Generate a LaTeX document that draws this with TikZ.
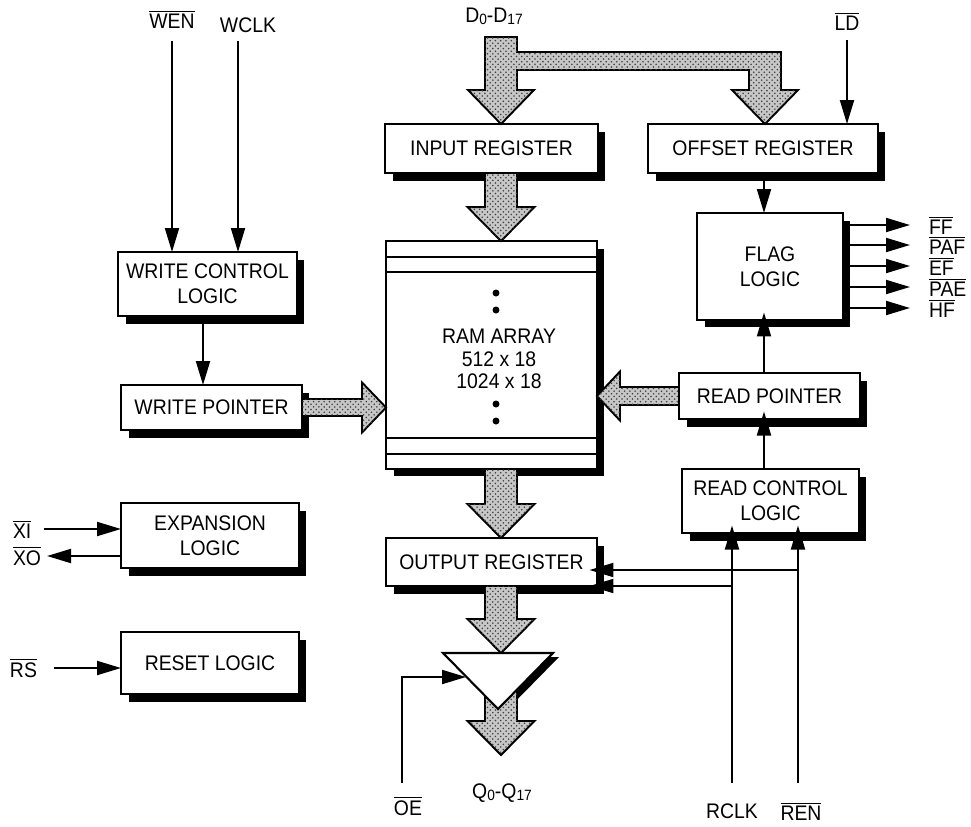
\documentclass[tikz,border=0pt]{standalone}
\usepackage{fontspec}
\setmainfont{Liberation Sans}[FakeStretch=0.92]
\usetikzlibrary{arrows.meta,positioning,calc,shadows,patterns}

\newcommand{\ovl}[1]{$\overline{\mbox{#1}}$}
\newcommand{\lowfig}[1]{\raisebox{-1pt}{\fontsize{8.5}{8.5}\selectfont #1}}
% fat bus arrows: #1 shaft start, #2 tip
\newcommand{\busdown}[2]{%
  \draw[bus] ([xshift=-0.32cm]#1) -- ([xshift=0.32cm]#1) -- ([xshift=0.32cm,yshift=0.68cm]#2) -- ([xshift=0.67cm,yshift=0.68cm]#2) -- (#2) -- ([xshift=-0.67cm,yshift=0.68cm]#2) -- ([xshift=-0.32cm,yshift=0.68cm]#2) -- cycle;}
\newcommand{\busright}[2]{%
  \draw[bus] ([yshift=0.17cm]#1) -- ([xshift=-0.48cm,yshift=0.17cm]#2) -- ([xshift=-0.48cm,yshift=0.5cm]#2) -- (#2) -- ([xshift=-0.48cm,yshift=-0.5cm]#2) -- ([xshift=-0.48cm,yshift=-0.17cm]#2) -- ([yshift=-0.17cm]#1) -- cycle;}
\newcommand{\busleft}[2]{%
  \draw[bus] ([yshift=0.18cm]#1) -- ([xshift=0.46cm,yshift=0.18cm]#2) -- ([xshift=0.46cm,yshift=0.49cm]#2) -- (#2) -- ([xshift=0.46cm,yshift=-0.49cm]#2) -- ([xshift=0.46cm,yshift=-0.18cm]#2) -- ([yshift=-0.18cm]#1) -- cycle;}

\begin{document}
\begin{tikzpicture}[x=0.02cm, y=-0.02cm, font=\fontsize{12}{14.2}\selectfont,
		block/.style={draw, line width=1.2pt, fill=white, align=center, inner sep=0pt, outer sep=0pt, drop shadow={shadow xshift=0.15cm, shadow yshift=-0.15cm, fill=black, opacity=1}},
		lbl/.style={inner sep=0pt, outer sep=0pt},
		sig/.style={line width=1.1pt, -{Triangle[length=0.48cm, width=0.28cm]}},
		bus/.style={draw, line width=1.1pt, line join=miter, fill=black!22, postaction={pattern=crosshatch dots, pattern color=black!75}}
		]
		\useasboundingbox (0,0) rectangle (971,826);

		% blocks
		\node[block, minimum width=3.58cm, minimum height=1.28cm] (wctl) at (207.5,284) {WRITE CONTROL\\LOGIC};
		\node[block, minimum width=3.62cm, minimum height=0.9cm] (wptr) at (211.5,407.5) {WRITE POINTER};
		\node[block, minimum width=3.56cm, minimum height=1.3cm] (expn) at (210,535.5) {EXPANSION\\LOGIC};
		\node[block, minimum width=3.56cm, minimum height=1.24cm] (rst) at (210,663) {RESET LOGIC};
		\node[block, minimum width=4.26cm, minimum height=0.98cm] (inreg) at (491.5,148.5) {INPUT REGISTER};
		\node[block, minimum width=4.6cm, minimum height=0.98cm] (offreg) at (763,148.5) {OFFSET REGISTER};
		\node[block, minimum width=2.92cm, minimum height=2.14cm] (flag) at (770,266.5) {FLAG\\LOGIC};
		\node[block, minimum width=4.22cm, minimum height=4.56cm] (ram) at (491.5,355) {};
		\node[block, minimum width=3.62cm, minimum height=0.92cm] (rptr) at (769.5,396) {READ POINTER};
		\node[block, minimum width=3.54cm, minimum height=1.28cm] (rctl) at (770.5,501) {READ CONTROL\\LOGIC};
		\node[block, minimum width=4.22cm, minimum height=0.96cm] (outreg) at (491.5,562) {OUTPUT REGISTER};

		% inside the RAM array
		\foreach \yy in {257,272,438,454}
			\draw[line width=1.2pt] (ram.west |- 0,\yy) -- (ram.east |- 0,\yy);
		\foreach \yy in {293,310,404,421}
			\fill (496,\yy) circle (0.07cm);
		\node[lbl, align=center, font=\fontsize{12}{13}\selectfont] (ramtxt) at (499,359) {RAM ARRAY\\512 x 18\\1024 x 18};

		% pin labels
		\node[lbl] (wen) at (172,19) {\ovl{WEN}};
		\node[lbl] (wclk) at (248,25) {WCLK};
		\node[lbl] (din) at (494,16) {D\lowfig{0}-D\lowfig{17}};
		\node[lbl] (ld) at (847,21) {\ovl{LD}};
		\node[lbl, anchor=west] (xi) at (13,529) {\ovl{XI}};
		\node[lbl, anchor=west] (xo) at (13,556) {\ovl{XO}};
		\node[lbl, anchor=west] (rs) at (10,668) {\ovl{RS}};
		\node[lbl] (oe) at (408,806) {\ovl{OE}};
		\node[lbl] (qout) at (502,793) {Q\lowfig{0}-Q\lowfig{17}};
		\node[lbl] (rclk) at (732,811) {RCLK};
		\node[lbl] (ren) at (801,811) {\ovl{REN}};

		\coordinate (wenin) at (172,41);
		\coordinate (wclkin) at (238,41);
		\coordinate (ldin) at (847,40);
		\coordinate (oein) at (402,783);
		\coordinate (rclkin) at (732,783);
		\coordinate (renin) at (798,783);
		\coordinate (bufin) at (466,677);
		\coordinate (bx) at (501,0);
		\coordinate (fx) at (764,0);
		\coordinate (wx) at (203,0);
		\coordinate (qtip) at (501,755);

		% data buses
		\draw[bus] (485,37) -- (517,37) -- (517,52) -- (781,52) -- (781,90) -- (798,90) -- (765,124) -- (732,90) -- (749,90) -- (749,70) -- (517,70) -- (517,90) -- (534,90) -- (501,124) -- (468,90) -- (485,90) -- cycle;
		\busdown{bx |- inreg.south}{bx |- ram.north}
		\busdown{bx |- ram.south}{bx |- outreg.north}
		\busdown{bx |- outreg.south}{bx |- 0,653}
		\busright{wptr.east}{ram.west |- wptr.east}
		\busleft{rptr.west}{ram.east |- rptr.west}

		% output buffer
		\fill (449,657) -- (559,657) -- (504,713) -- cycle;
		\busdown{bx |- 0,660}{qtip}
		\draw[line width=1.2pt, fill=white, line join=miter] (443,653) -- (553,653) -- (498,709) -- cycle;

		% control signals
		\draw[sig] (wenin) -- (wenin |- wctl.north);
		\draw[sig] (wclkin) -- (wclkin |- wctl.north);
		\draw[sig] (wx |- wctl.south) -- (wx |- wptr.north);
		\draw[sig] (ldin) -- (ldin |- offreg.north);
		\draw[sig] (fx |- offreg.south) -- (fx |- flag.north);
		\draw[sig, shorten >=-0.15cm] (fx |- rptr.north) -- (fx |- flag.south);
		\draw[sig, shorten >=-0.15cm] (fx |- rctl.north) -- (fx |- rptr.south);
		\draw[sig, shorten >=-0.15cm] (rclkin) -- (rclkin |- rctl.south);
		\draw[sig, shorten >=-0.15cm] (renin) -- (renin |- rctl.south);
		\draw[sig, shorten >=-0.15cm] (renin |- 0,570) -- (outreg.east |- 0,570);
		\draw[sig, shorten >=-0.15cm] (rclkin |- 0,586) -- (outreg.east |- 0,586);
		\draw[sig, shorten <=0.25cm] (xi.east) -- (xi.east -| expn.west);
		\draw[sig, shorten >=0.12cm] (xo.east -| expn.west) -- (xo.east);
		\draw[sig, shorten <=0.35cm] (rs.east) -- (rs.east -| rst.west);
		\draw[sig] (oein) |- (bufin);

		% flag outputs
		\foreach \f/\yy [count=\i] in {FF/225, PAF/245, EF/266, PAE/287, HF/308}{
			\coordinate (fo\i) at (910,\yy);
			\node[lbl, anchor=west] (fl\i) at ([xshift=0.38cm]fo\i) {\ovl{\f}};
			\draw[sig] (flag.east |- fo\i) -- (fo\i);
		}
\end{tikzpicture}
\end{document}
